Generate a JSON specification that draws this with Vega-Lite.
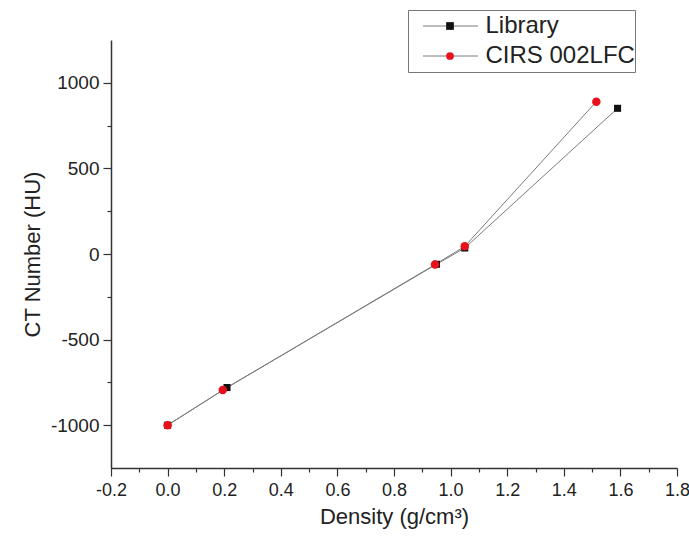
{
  "$schema": "https://vega.github.io/schema/vega-lite/v6.json",
  "width": 566,
  "height": 428,
  "autosize": "none",
  "padding": {"left": 111, "top": 40, "right": 12, "bottom": 74},
  "background": "white",
  "config": {
    "view": {"stroke": null},
    "font": "Liberation Sans",
    "axis": {
      "grid": false,
      "domainColor": "#333333",
      "domainWidth": 1.5,
      "tickColor": "#333333",
      "tickWidth": 1.2,
      "labelFont": "Liberation Sans",
      "labelFontSize": 19,
      "labelColor": "#222222",
      "titleFont": "Liberation Sans",
      "titleFontSize": 22,
      "titleFontWeight": "normal",
      "titleColor": "#222222"
    }
  },
  "data": {
    "values": [
      {"series": "Library", "density": 0.0, "ct": -1000},
      {"series": "Library", "density": 0.21, "ct": -780},
      {"series": "Library", "density": 0.95, "ct": -60},
      {"series": "Library", "density": 1.05, "ct": 35},
      {"series": "Library", "density": 1.59, "ct": 851},
      {"series": "CIRS 002LFC", "density": 0.0, "ct": -1000},
      {"series": "CIRS 002LFC", "density": 0.195, "ct": -795},
      {"series": "CIRS 002LFC", "density": 0.945, "ct": -62},
      {"series": "CIRS 002LFC", "density": 1.05, "ct": 45},
      {"series": "CIRS 002LFC", "density": 1.515, "ct": 890}
    ]
  },
  "layer": [
    {
      "mark": {"type": "line", "strokeWidth": 1},
      "encoding": {
        "x": {
          "field": "density", "type": "quantitative",
          "scale": {"domain": [-0.2, 1.8], "nice": false, "zero": false},
          "axis": {
            "title": "Density (g/cm³)",
            "values": [-0.2, 0, 0.2, 0.4, 0.6, 0.8, 1.0, 1.2, 1.4, 1.6, 1.8],
            "format": ".1f",
            "labelExpr": "replace(datum.label, '−', '-')",
            "labelFontSize": 18,
            "tickSize": 8,
            "labelPadding": 5,
            "titlePadding": 7,
            "labelFlush": false,
            "labelOverlap": false
          }
        },
        "y": {
          "field": "ct", "type": "quantitative",
          "scale": {"domain": [-1250, 1250], "nice": false, "zero": false},
          "axis": {
            "title": "CT Number (HU)",
            "values": [-1000, -500, 0, 500, 1000],
            "format": "d",
            "labelExpr": "replace(datum.label, '−', '-')",
            "tickSize": 8,
            "labelPadding": 4,
            "titlePadding": 6,
            "labelOverlap": false
          }
        },
        "stroke": {
          "field": "series", "type": "nominal",
          "scale": {"domain": ["CIRS 002LFC", "Library"], "range": ["#7a7a7a", "#7a7a7a"]},
          "legend": {
            "title": null,
            "orient": "none",
            "legendX": 297,
            "legendY": -30,
            "padding": 4,
            "strokeColor": "#777777",
            "symbolType": "M-5,0H5",
            "symbolSize": 121,
            "symbolStrokeWidth": 1,
            "symbolFillColor": "transparent",
            "symbolOffset": 26.5,
            "labelOffset": 19,
            "labelFont": "Liberation Sans",
            "labelFontSize": 24,
            "labelColor": "transparent",
            "rowPadding": 6
          }
        }
      }
    },
    {
      "mark": {"type": "point", "filled": true, "opacity": 1},
      "encoding": {
        "x": {"field": "density", "type": "quantitative", "axis": null},
        "y": {"field": "ct", "type": "quantitative", "axis": null},
        "fill": {
          "field": "series", "type": "nominal",
          "scale": {"domain": ["Library", "CIRS 002LFC"], "range": ["#111111", "#e8101a"]},
          "legend": {
            "title": null,
            "orient": "none",
            "legendX": 297,
            "legendY": -30,
            "padding": 4,
            "symbolSize": 60,
            "symbolStrokeWidth": 0,
            "symbolOffset": 26,
            "labelOffset": 23.5,
            "labelFont": "Liberation Sans",
            "labelFontSize": 24,
            "labelColor": "#222222",
            "rowPadding": 6
          }
        },
        "shape": {
          "field": "series", "type": "nominal",
          "scale": {"domain": ["Library", "CIRS 002LFC"], "range": ["square", "circle"]},
          "legend": {
            "title": null,
            "orient": "none",
            "legendX": 297,
            "legendY": -30,
            "padding": 4,
            "symbolSize": 60,
            "symbolStrokeWidth": 0,
            "symbolOffset": 26,
            "labelOffset": 23.5,
            "labelFont": "Liberation Sans",
            "labelFontSize": 24,
            "labelColor": "#222222",
            "rowPadding": 6
          }
        },
        "size": {
          "field": "series", "type": "nominal",
          "scale": {"range": [72, 50]},
          "legend": null
        }
      }
    },
    {
      "mark": {"type": "point", "opacity": 0},
      "encoding": {
        "x": {
          "field": "density", "type": "quantitative",
          "axis": {
            "orient": "bottom",
            "title": null,
            "labels": false,
            "domain": false,
            "values": [-0.1, 0.1, 0.3, 0.5, 0.7, 0.9, 1.1, 1.3, 1.5, 1.7],
            "tickSize": 4
          }
        },
        "y": {
          "field": "ct", "type": "quantitative",
          "axis": {
            "orient": "left",
            "title": null,
            "labels": false,
            "domain": false,
            "values": [-750, -250, 250, 750],
            "tickSize": 4
          }
        }
      }
    }
  ],
  "resolve": {"axis": {"x": "independent", "y": "independent"}}
}
